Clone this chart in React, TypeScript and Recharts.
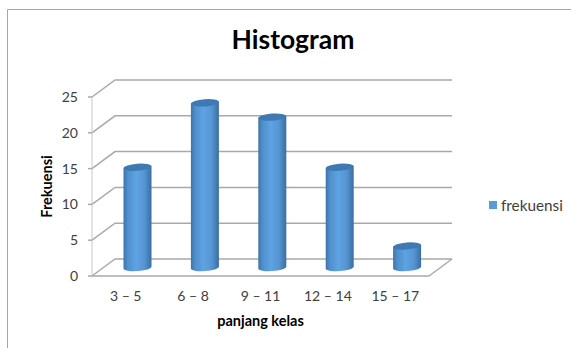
import React from "react";
import { BarChart, Bar, XAxis, YAxis, CartesianGrid, Legend, Label } from "recharts";

const categories = ["3 – 5", "6 – 8", "9 – 11", "12 – 14", "15 – 17"];
const frekuensi = [14, 23, 21, 14, 3];
const yTicks = [0, 5, 10, 15, 20, 25];

const rows = categories.map((kelas, i) => ({ kelas, frekuensi: frekuensi[i] }));

const WIDTH = 571;
const HEIGHT = 348;
const PLOT = { left: 92, right: 429, top: 97, bottom: 276 };
// Oblique offset from the front plane to the back wall of the 3D box.
const DEPTH_X = 23;
const DEPTH_Y = 17;
const GRID = "#a9a9a9";
const TEXT = "#404040";
const FONT = "Lato, Carlito, sans-serif";

// Back-wall gridline together with its slanted run along the side wall.
function GridLine(props: any) {
  const { x1, y1, x2 } = props;
  const isFloor = Math.abs(y1 - PLOT.bottom) < 0.5;
  const bx = y1 - DEPTH_Y;
  return (
    <g>
      <polyline
        points={`${x1},${y1} ${x1 + DEPTH_X},${bx} ${x2 + DEPTH_X},${bx}`}
        fill="none"
        stroke={GRID}
        strokeWidth={1.5}
      />
      {isFloor && (
        <line x1={x2} y1={y1} x2={x2 + DEPTH_X} y2={bx} stroke={GRID} strokeWidth={1.5} />
      )}
    </g>
  );
}

// Cylinder standing midway between the front plane and the back wall.
function Cylinder(props: any) {
  const { x, y, width, height } = props;
  const left = x + DEPTH_X / 2;
  const right = left + width;
  const top = y - DEPTH_Y / 2;
  const base = top + height;
  const rx = width / 2;
  const ry = 3.6;
  const tilt = 0.9;
  return (
    <g>
      <path
        d={`M${left},${top + tilt} L${left},${base + tilt} A${rx},${ry} -4 0 0 ${right},${base - tilt} L${right},${top - tilt} Z`}
        fill="url(#cylinderBody)"
      />
      <ellipse
        cx={left + rx}
        cy={top}
        rx={rx}
        ry={ry}
        fill="#3f79b3"
        transform={`rotate(-4 ${left + rx} ${top})`}
      />
    </g>
  );
}

function LegendBox({ payload }: any) {
  return (
    <div style={{ display: "flex", alignItems: "center", fontFamily: FONT, fontSize: 15.3, color: TEXT }}>
      {(payload || []).map((p: any) => (
        <React.Fragment key={p.value}>
          <span style={{ width: 8, height: 8, background: "#5b9bd5", marginRight: 4, display: "inline-block" }} />
          <span>{p.value}</span>
        </React.Fragment>
      ))}
    </div>
  );
}

export default function App() {
  return (
    <div style={{ position: "absolute", left: 0, top: 0, width: WIDTH, height: HEIGHT, background: "#fff" }}>
      <BarChart
        width={WIDTH}
        height={HEIGHT}
        data={rows}
        margin={{ left: 42, right: WIDTH - PLOT.right, top: PLOT.top, bottom: 22 }}
      >
        <defs>
          <linearGradient id="cylinderBody" x1="0" y1="0" x2="1" y2="0">
            <stop offset="0" stopColor="#3d74aa" />
            <stop offset="0.15" stopColor="#4f8fcb" />
            <stop offset="0.45" stopColor="#5fa3e3" />
            <stop offset="0.75" stopColor="#5594d1" />
            <stop offset="1" stopColor="#3a6ea1" />
          </linearGradient>
        </defs>

        {/* Chart-area frame: only the top and left edges fall inside the view */}
        <line x1={7.5} y1={9.5} x2={WIDTH} y2={9.5} stroke="#a6a6a6" strokeWidth={1} />
        <line x1={7.5} y1={9.5} x2={7.5} y2={HEIGHT} stroke="#a6a6a6" strokeWidth={1} />

        <text x={293} y={49} textAnchor="middle" fontFamily={FONT} fontWeight={700} fontSize={26.5} fill="#000">
          Histogram
        </text>

        <CartesianGrid vertical={false} horizontal={(p: any) => <GridLine {...p} />} />
        <XAxis
          dataKey="kelas"
          tickLine={false}
          axisLine={{ stroke: GRID, strokeWidth: 1.5 }}
          tick={{ fill: TEXT, fontSize: 14, fontFamily: FONT }}
          tickMargin={9}
          height={50}
          interval={0}
        >
          <Label
            value="panjang kelas"
            position="insideBottom"
            offset={0}
            style={{ fontFamily: FONT, fontWeight: 700, fontSize: 14.5, fill: "#000" }}
          />
        </XAxis>
        <YAxis
          domain={[0, 25]}
          ticks={yTicks}
          width={50}
          tickSize={4}
          tickMargin={10}
          tickLine={{ stroke: GRID, strokeWidth: 1.5 }}
          axisLine={{ stroke: "#c8c8c8", strokeWidth: 1 }}
          tick={{ fill: TEXT, fontSize: 14, fontFamily: FONT }}
        >
          <Label
            value="Frekuensi"
            angle={-90}
            position="insideLeft"
            offset={5}
            style={{ fontFamily: FONT, fontWeight: 700, fontSize: 14.5, fill: "#000", textAnchor: "middle" }}
          />
        </YAxis>
        <Legend
          layout="vertical"
          align="center"
          verticalAlign="middle"
          content={<LegendBox />}
          wrapperStyle={{ position: "absolute", left: 489, top: 196, width: 80 }}
        />
        <Bar dataKey="frekuensi" name="frekuensi" fill="#5b9bd5" barSize={28} shape={<Cylinder />} isAnimationActive={false} />
      </BarChart>
    </div>
  );
}
